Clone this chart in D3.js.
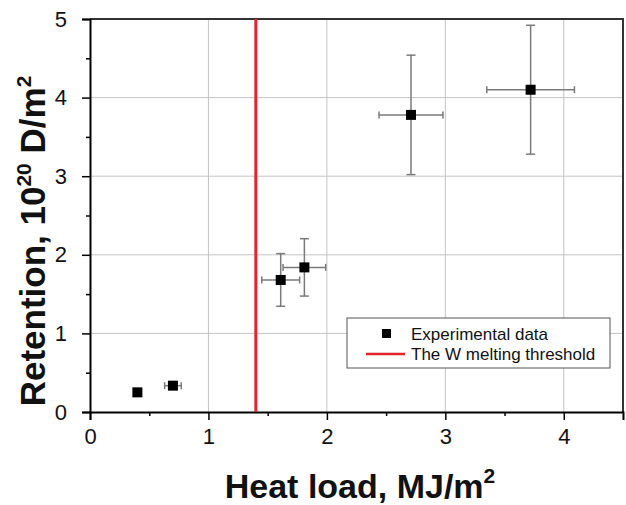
<!DOCTYPE html>
<html>
<head>
<meta charset="utf-8">
<script src="https://cdn.jsdelivr.net/npm/d3@7"></script>
<style>
  body { margin: 0; background: #fff; }
  text { font-family: "Liberation Sans", Arial, sans-serif; }
</style>
</head>
<body>
<script>
var w = 626
var h = 505

// data
var heatLoad  = [0.40, 0.70, 1.61, 1.81, 2.71, 3.72]
var retention = [0.25, 0.335, 1.68, 1.84, 3.78, 4.10]
var heatErr   = [0, 0.07, 0.16, 0.18, 0.27, 0.37]
var retErr    = [0, 0.03, 0.335, 0.365, 0.76, 0.82]
var threshold = 1.4
var xTicks = [0, 1, 2, 3, 4]
var yTicks = [0, 1, 2, 3, 4, 5]
var legendLabels = ["Experimental data", "The W melting threshold"]

var m = {left: 90, right: 3, top: 19, bottom: 93}

var x = d3.scaleLinear().domain([0, 4.5]).range([m.left, w - m.right])
var y = d3.scaleLinear().domain([0, 5]).range([h - m.bottom, m.top])

var svg = d3.select("body").append("svg")
  .attr("width", w)
  .attr("height", h)

// grid
svg.append("g").selectAll("line")
  .data(xTicks.slice(1))
  .enter().append("line")
  .attr("x1", d => x(d)).attr("x2", d => x(d))
  .attr("y1", y(0)).attr("y2", y(5))
  .attr("stroke", "#c4c4c4")
svg.append("g").selectAll("line")
  .data(yTicks.slice(1, -1))
  .enter().append("line")
  .attr("x1", x(0)).attr("x2", x(4.5))
  .attr("y1", d => y(d)).attr("y2", d => y(d))
  .attr("stroke", "#c4c4c4")

// top / right frame
svg.append("path")
  .attr("d", `M${x(0)},${y(5)}H${x(4.5)}V${y(0)}`)
  .attr("fill", "none")
  .attr("stroke", "#333")
  .attr("stroke-width", 2)

// axes
svg.append("g")
  .attr("transform", `translate(0,${y(0)})`)
  .call(d3.axisBottom(x).tickValues(xTicks).tickSize(8).tickPadding(8).tickFormat(d3.format("d")))
svg.append("g")
  .attr("transform", `translate(0,${y(0)})`)
  .call(d3.axisBottom(x).tickValues([0.5, 1.5, 2.5, 3.5]).tickSize(4).tickFormat(""))
  .call(g => g.select(".domain").remove())

svg.append("g")
  .attr("transform", `translate(${x(0)},0)`)
  .call(d3.axisLeft(y).tickValues(yTicks).tickSize(8).tickPadding(15).tickFormat(d3.format("d")))
svg.append("g")
  .attr("transform", `translate(${x(0)},0)`)
  .call(d3.axisLeft(y).tickValues([0.5, 1.5, 2.5, 3.5, 4.5]).tickSize(4).tickFormat(""))
  .call(g => g.select(".domain").remove())

svg.selectAll(".domain").attr("stroke", "#000").attr("stroke-width", 2)
svg.selectAll(".tick line").attr("stroke", "#000").attr("stroke-width", 1.5)
svg.selectAll(".tick text")
  .attr("font-size", 22)
  .attr("font-family", "Liberation Sans, Arial, sans-serif")
  .attr("fill", "#111")

// melting threshold
svg.append("line")
  .attr("x1", x(threshold)).attr("x2", x(threshold))
  .attr("y1", y(0)).attr("y2", y(5))
  .attr("stroke", "#e0262b")
  .attr("stroke-width", 3)

// error bars
var pts = heatLoad.map((d, i) => ({x: d, y: retention[i], ex: heatErr[i], ey: retErr[i]}))
var eb = svg.append("g").attr("stroke", "#7a7a7a").attr("stroke-width", 1.5)
pts.filter(d => d.ex > 0).forEach(function(d) {
  eb.append("line").attr("x1", x(d.x - d.ex)).attr("x2", x(d.x + d.ex)).attr("y1", y(d.y)).attr("y2", y(d.y))
  eb.append("line").attr("x1", x(d.x - d.ex)).attr("x2", x(d.x - d.ex)).attr("y1", y(d.y) - 3.5).attr("y2", y(d.y) + 3.5)
  eb.append("line").attr("x1", x(d.x + d.ex)).attr("x2", x(d.x + d.ex)).attr("y1", y(d.y) - 3.5).attr("y2", y(d.y) + 3.5)
})
pts.filter(d => d.ey > 0).forEach(function(d) {
  eb.append("line").attr("x1", x(d.x)).attr("x2", x(d.x)).attr("y1", y(d.y - d.ey)).attr("y2", y(d.y + d.ey))
  eb.append("line").attr("x1", x(d.x) - 4.5).attr("x2", x(d.x) + 4.5).attr("y1", y(d.y - d.ey)).attr("y2", y(d.y - d.ey))
  eb.append("line").attr("x1", x(d.x) - 4.5).attr("x2", x(d.x) + 4.5).attr("y1", y(d.y + d.ey)).attr("y2", y(d.y + d.ey))
})

// markers
svg.append("g").selectAll("rect")
  .data(pts)
  .enter().append("rect")
  .attr("x", d => x(d.x) - 5)
  .attr("y", d => y(d.y) - 5)
  .attr("width", 10).attr("height", 10)
  .attr("fill", "#000")

// legend
var lg = svg.append("g").attr("transform", "translate(347,318)")
lg.append("rect")
  .attr("width", 263).attr("height", 50)
  .attr("fill", "#fff").attr("stroke", "#555").attr("stroke-width", 1)
lg.append("rect").attr("x", 35).attr("y", 11).attr("width", 9).attr("height", 9).attr("fill", "#000")
lg.append("line").attr("x1", 19).attr("x2", 58).attr("y1", 36).attr("y2", 36)
  .attr("stroke", "#e0262b").attr("stroke-width", 2.5)
lg.selectAll("text.lab")
  .data(legendLabels)
  .enter().append("text")
  .attr("class", "lab")
  .attr("x", 64)
  .attr("y", (d, i) => 22 + i * 20)
  .attr("font-size", 17)
  .attr("fill", "#111")
  .text(d => d)

// axis titles
var xt = svg.append("text")
  .attr("x", 360).attr("y", 498)
  .attr("text-anchor", "middle")
  .attr("font-size", 34).attr("font-weight", "bold")
  .attr("fill", "#111")
xt.append("tspan").text("Heat load, MJ/m")
xt.append("tspan").attr("font-size", 21).attr("dy", -15).text("2")

var yt = svg.append("text")
  .attr("transform", "translate(45,241) rotate(-90)")
  .attr("text-anchor", "middle")
  .attr("font-size", 35).attr("font-weight", "bold")
  .attr("fill", "#111")
yt.append("tspan").text("Retention, 10")
yt.append("tspan").attr("font-size", 21).attr("dy", -14).text("20")
yt.append("tspan").attr("dy", 14).text(" D/m")
yt.append("tspan").attr("font-size", 21).attr("dy", -14).text("2")
</script>
</body>
</html>
